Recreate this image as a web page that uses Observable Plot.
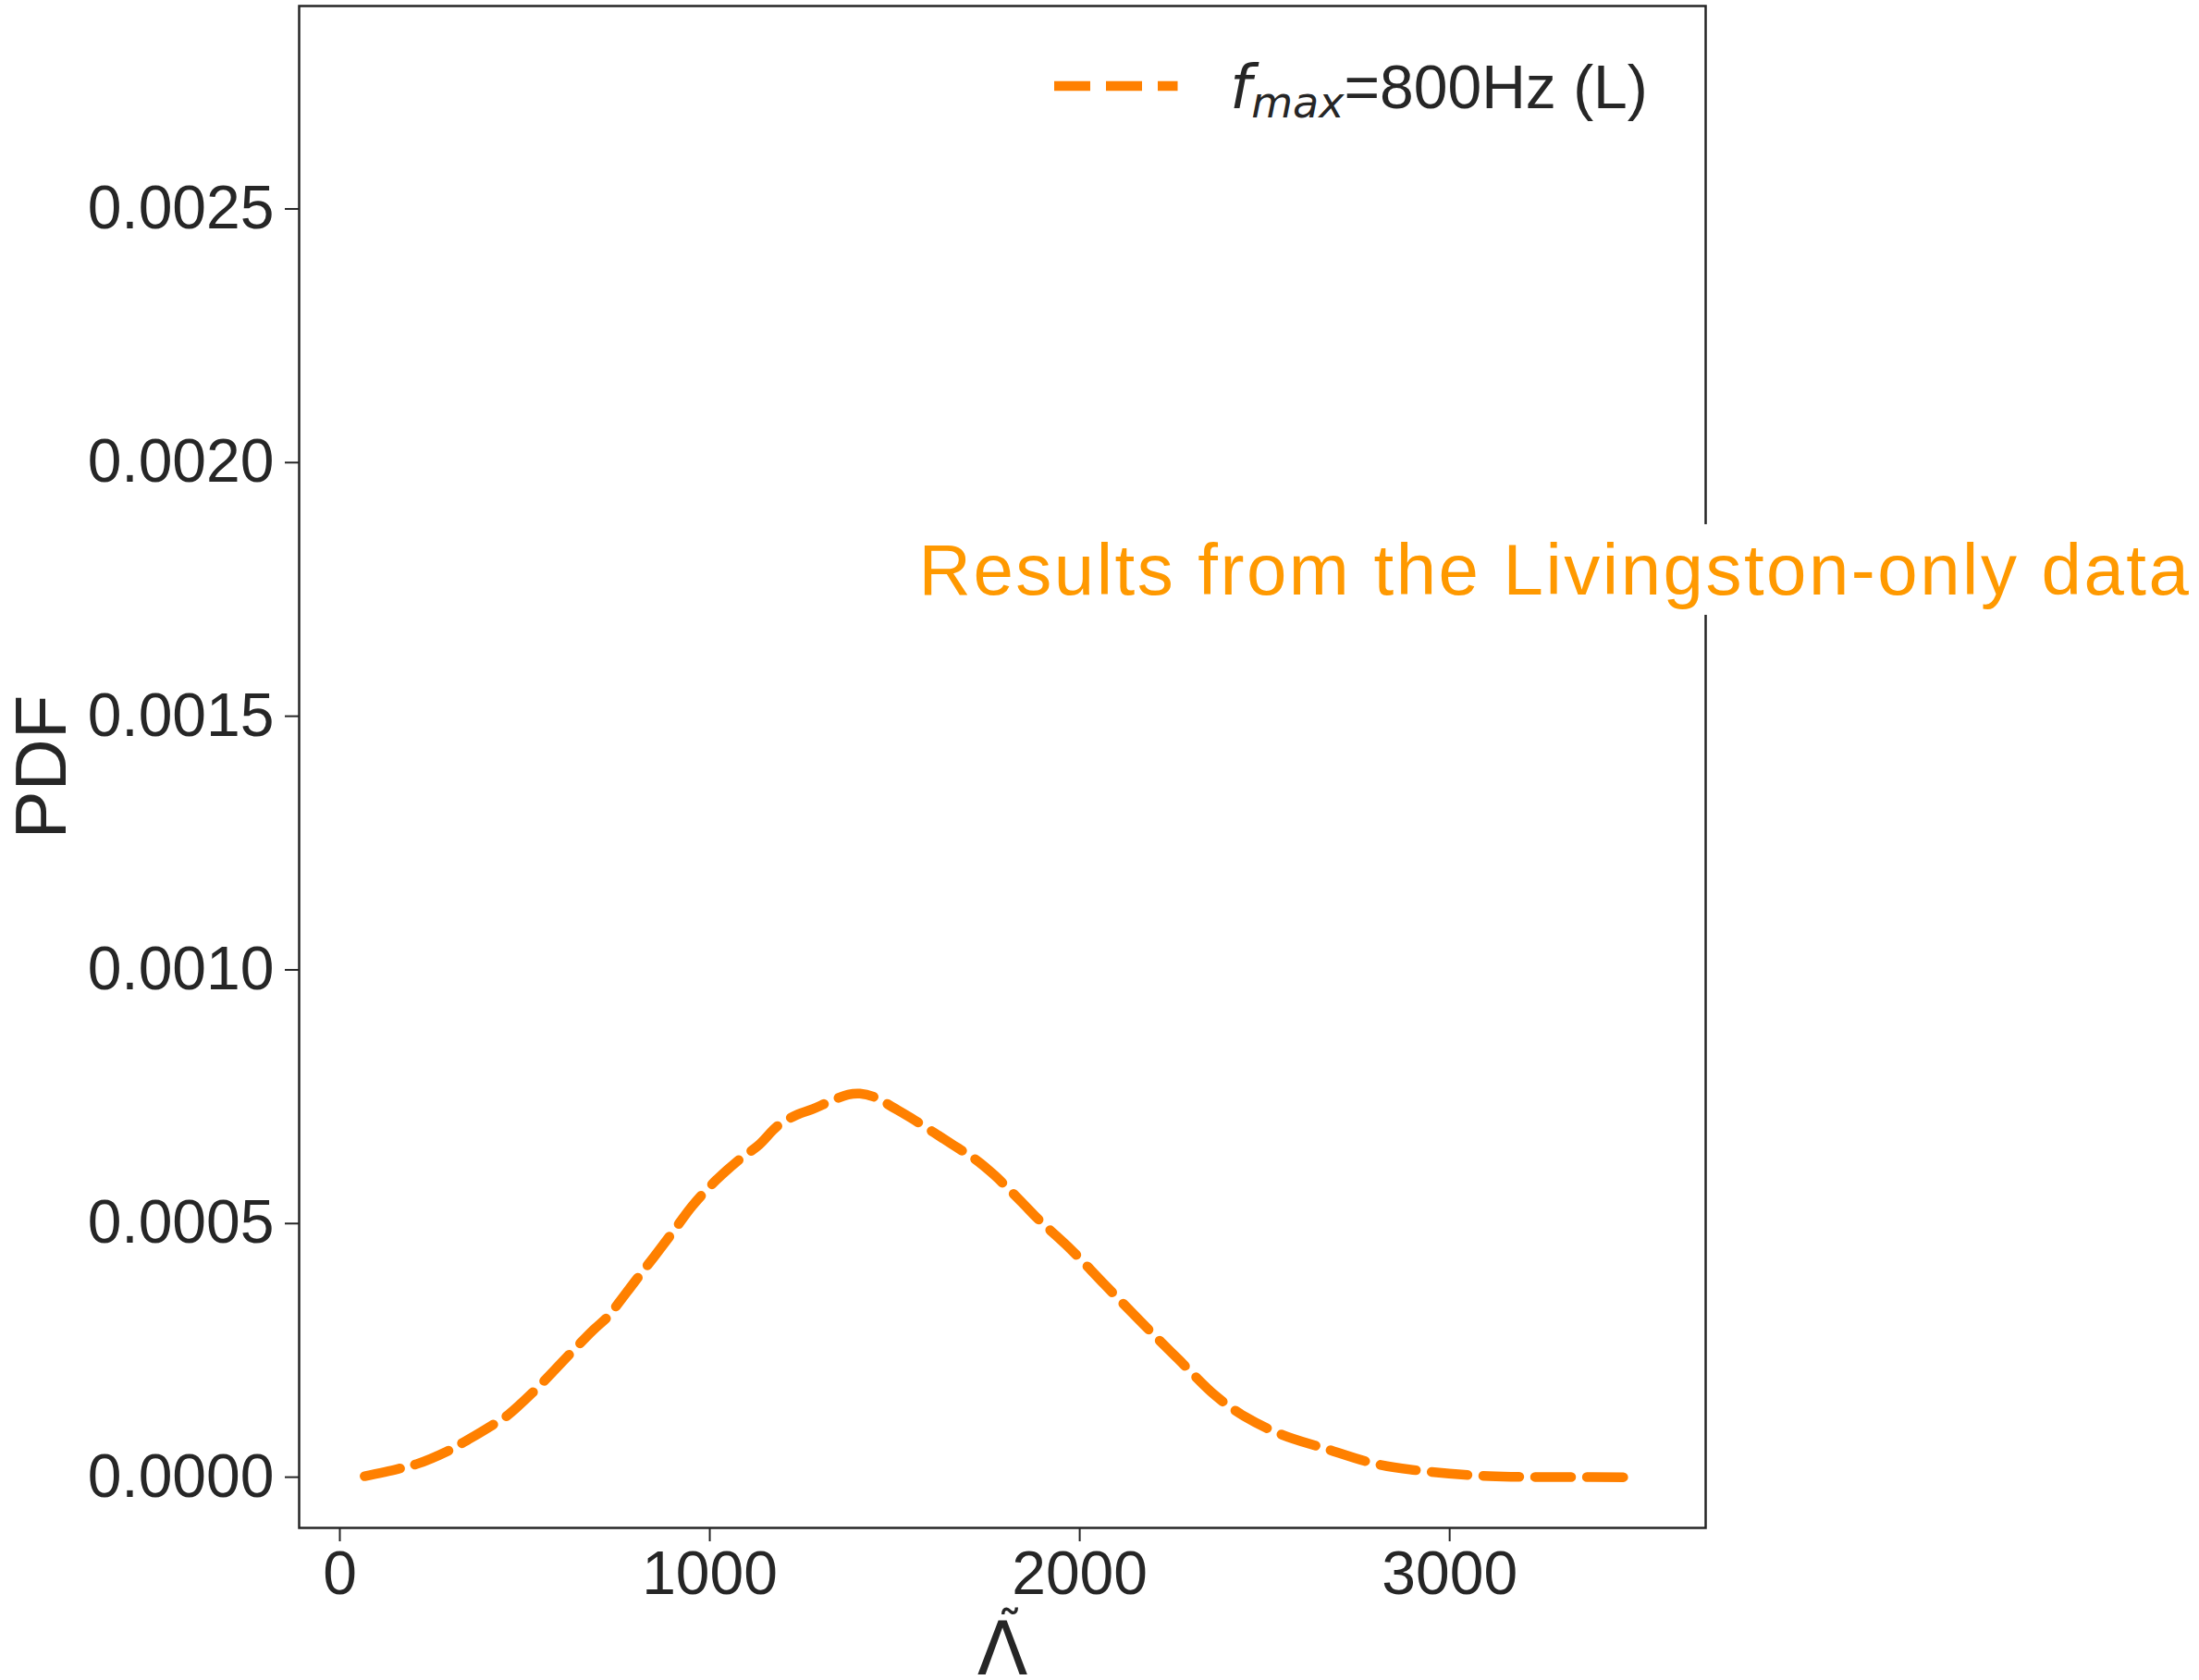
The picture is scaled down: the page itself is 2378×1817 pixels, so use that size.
<!DOCTYPE html>
<html><head><meta charset="utf-8">
<script src="https://cdn.jsdelivr.net/npm/d3@7"></script>
<script src="https://cdn.jsdelivr.net/npm/@observablehq/plot@0.6"></script>
<style>
html,body{margin:0;padding:0;background:#fff;}
</style>
</head><body><div id="chart"></div>
<script>
// Data (Λ̃ vs PDF)
const lambdaTilde = [67,156,208,290,335,411,450,520,622,685,724,749,800,851,902,953,1018,1080,1133,1183,1234,1279,1323,1374,1406,1450,1495,1553,1655,1719,1770,1846,1890,1972,2067,2170,2266,2368,2445,2546,2661,2802,2942,3107,3299,3503];
const pdfValues = [0.000002,0.000016,0.000026,0.000051,0.000069,0.000102,0.00012,0.000166,0.000243,0.00029,0.000316,0.000339,0.000388,0.000436,0.000485,0.000535,0.000586,0.000626,0.000655,0.000692,0.000714,0.000726,0.00074,0.000754,0.000756,0.000748,0.000729,0.000704,0.000656,0.000626,0.000595,0.00054,0.000507,0.000452,0.00038,0.000303,0.000233,0.00016,0.00012,0.000084,0.000057,0.000026,0.000011,0.000002,0.0000003,0];
const xTicks = [0, 1000, 2000, 3000];
const yTicks = [0, 0.0005, 0.001, 0.0015, 0.002, 0.0025];
const xLabelBase = "Λ";
const xLabelAccent = "\u02DC";
const yLabel = "PDF";
const legendMain = "f";
const legendSub = "max";
const legendRest = "=800Hz (L)";
const annotationText = "Results from the Livingston-only data";
const annotationPos = [1565, 0.00174];

const lineColor = "#ff8000";
const annotColor = "#ff9900";
const ink = "#262626";

const data = lambdaTilde.map((x, i) => ({x, y: pdfValues[i]}));

const chart = Plot.plot({
  width: 2378, height: 1817,
  marginLeft: 323, marginRight: 534, marginTop: 6, marginBottom: 165,
  style: {fontFamily: "'Liberation Sans', Arial, sans-serif", fontSize: "66px", color: ink, background: "#fff"},
  x: {domain: [-110, 3692]},
  y: {domain: [-0.0001, 0.0029]},
  marks: [
    Plot.axisX({ticks: xTicks, tickFormat: d => String(d), tickSize: 15, tickPadding: 10, strokeWidth: 2, label: null}),
    Plot.axisY({ticks: yTicks, tickFormat: d3.format(".4f"), tickSize: 15, tickPadding: 12, strokeWidth: 2, label: null}),
    Plot.frame({stroke: ink, strokeWidth: 2.5}),
    Plot.line(data, {x: "x", y: "y", stroke: lineColor, strokeWidth: 10.5, strokeDasharray: "39,17", curve: "catmull-rom"}),
    Plot.text([annotationText], {x: () => annotationPos[0], y: () => annotationPos[1], text: d => d, fill: annotColor, fontSize: 78, textAnchor: "start", lineAnchor: "bottom"}),
    Plot.text([yLabel], {text: d => d, frameAnchor: "left", rotate: -90, dx: -253, lineAnchor: "bottom", textAnchor: "middle", fontSize: 78, fill: ink}),
    Plot.text([xLabelBase], {text: d => d, frameAnchor: "bottom", dy: 158, lineAnchor: "bottom", textAnchor: "middle", fontSize: 80, fontFamily: "DejaVu Sans", fill: ink}),
    Plot.text([xLabelAccent], {text: d => d, frameAnchor: "bottom", dx: 8, dy: 128, lineAnchor: "bottom", textAnchor: "middle", fontSize: 56, fontFamily: "DejaVu Sans", fill: ink})
  ]
});
document.getElementById("chart").append(chart);

const svg = d3.select(chart);
// annotation: letter spacing and white box behind it
svg.selectAll('g[aria-label="text"] text')
  .filter(function() { return this.textContent === annotationText; })
  .each(function() {
    this.setAttribute("letter-spacing", "2.5px");
    const g = this.parentNode;
    const bb = this.getBBox();
    const pad = 5;
    const r = d3.select(g).insert("rect", ":first-child")
      .attr("x", bb.x - pad).attr("y", bb.y - pad)
      .attr("width", bb.width + 2 * pad).attr("height", bb.height + 2 * pad)
      .attr("fill", "#fff");
    const tr = this.getAttribute("transform");
    if (tr) r.attr("transform", tr);
  });

// legend inside the axes (top right)
const lg = svg.append("g").attr("aria-label", "legend");
lg.append("line")
  .attr("x1", 1140).attr("x2", 1273.5).attr("y1", 93).attr("y2", 93)
  .attr("stroke", lineColor).attr("stroke-width", 10.5).attr("stroke-dasharray", "39,17");
const lt = lg.append("text").attr("x", 1330).attr("y", 117).attr("fill", ink).attr("font-size", 66)
  .attr("text-anchor", "start")
  .attr("font-family", "'Liberation Sans', Arial, sans-serif");
lt.append("tspan").attr("font-family", "DejaVu Sans").attr("font-style", "italic").text(legendMain);
lt.append("tspan").attr("font-family", "DejaVu Sans").attr("font-style", "italic").attr("font-size", 46).attr("dy", 10).text(legendSub);
lt.append("tspan").attr("dy", -10).text(legendRest);
</script>
</body></html>
